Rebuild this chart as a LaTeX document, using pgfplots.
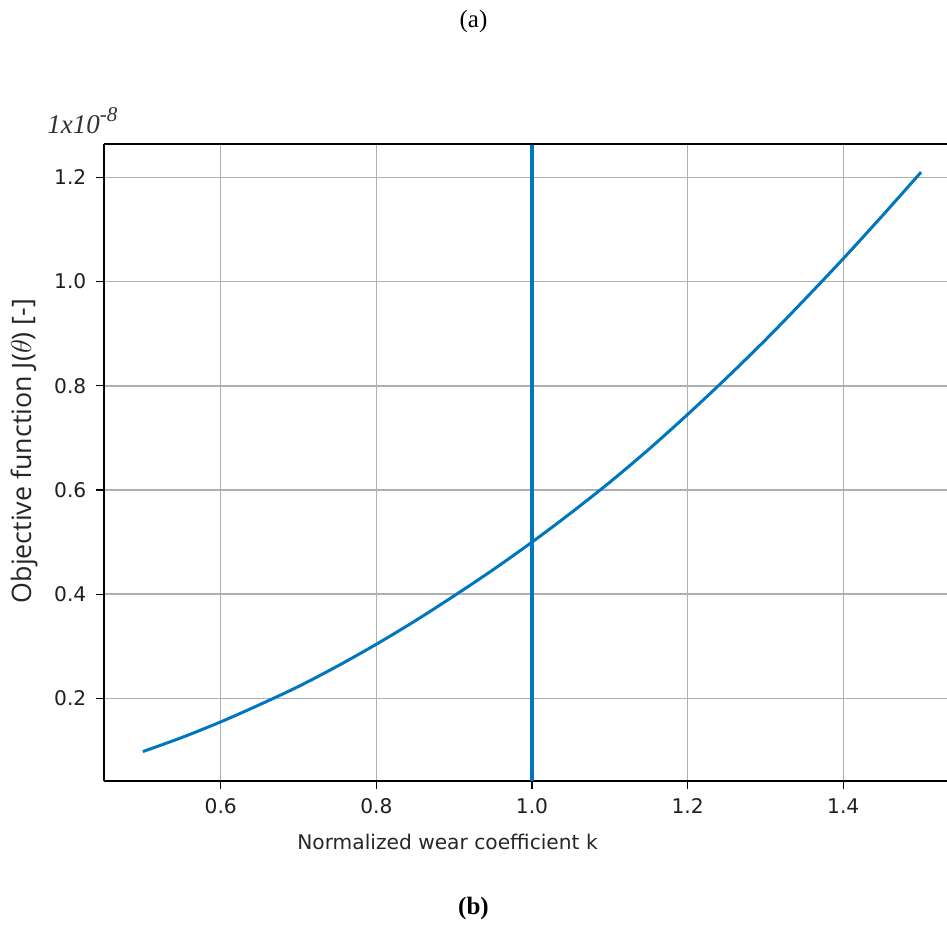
\documentclass[border=0pt]{standalone}
\usepackage{fontspec}
\setmainfont{DejaVu Sans}
\newfontfamily\ylfont{Open Sans}
\newfontfamily\serifcap{Liberation Serif}
\usepackage{pgfplots}
\pgfplotsset{compat=1.18}
\definecolor{curveblue}{RGB}{0,118,190}
\definecolor{gridgray}{RGB}{176,176,176}
\pgfplotstableread{
k J
0.50 0.098
0.55 0.125
0.60 0.155
0.65 0.188
0.70 0.223
0.75 0.262
0.80 0.304
0.85 0.349
0.90 0.397
0.95 0.447
1.00 0.500
1.05 0.556
1.10 0.615
1.15 0.678
1.20 0.745
1.25 0.815
1.30 0.888
1.35 0.965
1.40 1.044
1.45 1.126
1.50 1.210
}\curvedata
\begin{document}
\begin{tikzpicture}
\path[use as bounding box] (0,0) rectangle (473.5pt,-474.5pt);
\node[font=\serifcap\fontsize{12.5}{14}\selectfont] at (236.75pt,-10.5pt) {(a)};
\node[font=\serifcap\bfseries\fontsize{12.5}{14}\selectfont] at (236.75pt,-454pt) {(b)};
\begin{axis}[
  at={(52pt,-390.5pt)}, anchor=south west,
  scale only axis,
  width=421.5pt, height=318.5pt,
  xmin=0.45, xmax=1.5333,
  ymin=0.0415, ymax=1.264,
  axis x line*=bottom, axis y line*=left,
  axis line style={black, line width=0.8pt},
  xtick={0.6,0.8,1.0,1.2,1.4},
  ytick={0.2,0.4,0.6,0.8,1.0,1.2},
  tick align=outside,
  major tick length=3.8pt,
  every tick/.style={black, line width=0.6pt},
  grid=major,
  major grid style={gridgray, line width=0.75pt},
  /pgf/number format/assume math mode=true,
  /pgf/number format/.cd, fixed, fixed zerofill, precision=1, /pgfplots/.cd,
  tick label style={font=\fontsize{10.1}{12}\selectfont, text=black!88},
  xticklabel style={yshift=-1.5pt},
  yticklabel style={xshift=-1.5pt},
  xlabel={Normalized wear coefficient k},
  xlabel style={font=\fontsize{10.1}{12}\selectfont, text=black!85, at={(axis description cs:0.4075,-0.096)}, anchor=center},
  ylabel={Objective function J($\theta$) [-]},
  ylabel style={font=\ylfont\fontsize{13.4}{15}\selectfont, text=black!85, at={(axis description cs:-0.0949,0.518)}, anchor=center},
  clip mode=individual,
]
\addplot[curveblue, line width=1.5pt, smooth] table[x=k, y=J] {\curvedata};
\addplot[curveblue, line width=1.6pt] coordinates {(1.0,0.0415) (1.0,1.264)};
\draw[black, line width=0.8pt] (rel axis cs:0,1) -- (rel axis cs:1,1);
\node[anchor=base west, inner sep=0pt, font=\serifcap\itshape\fontsize{13.5}{15}\selectfont, text=black!80] at (rel axis cs:-0.0676,1.017) {1x10\raisebox{0.42em}{\fontsize{10.5}{12}\selectfont -8}};
\end{axis}
\end{tikzpicture}
\end{document}
